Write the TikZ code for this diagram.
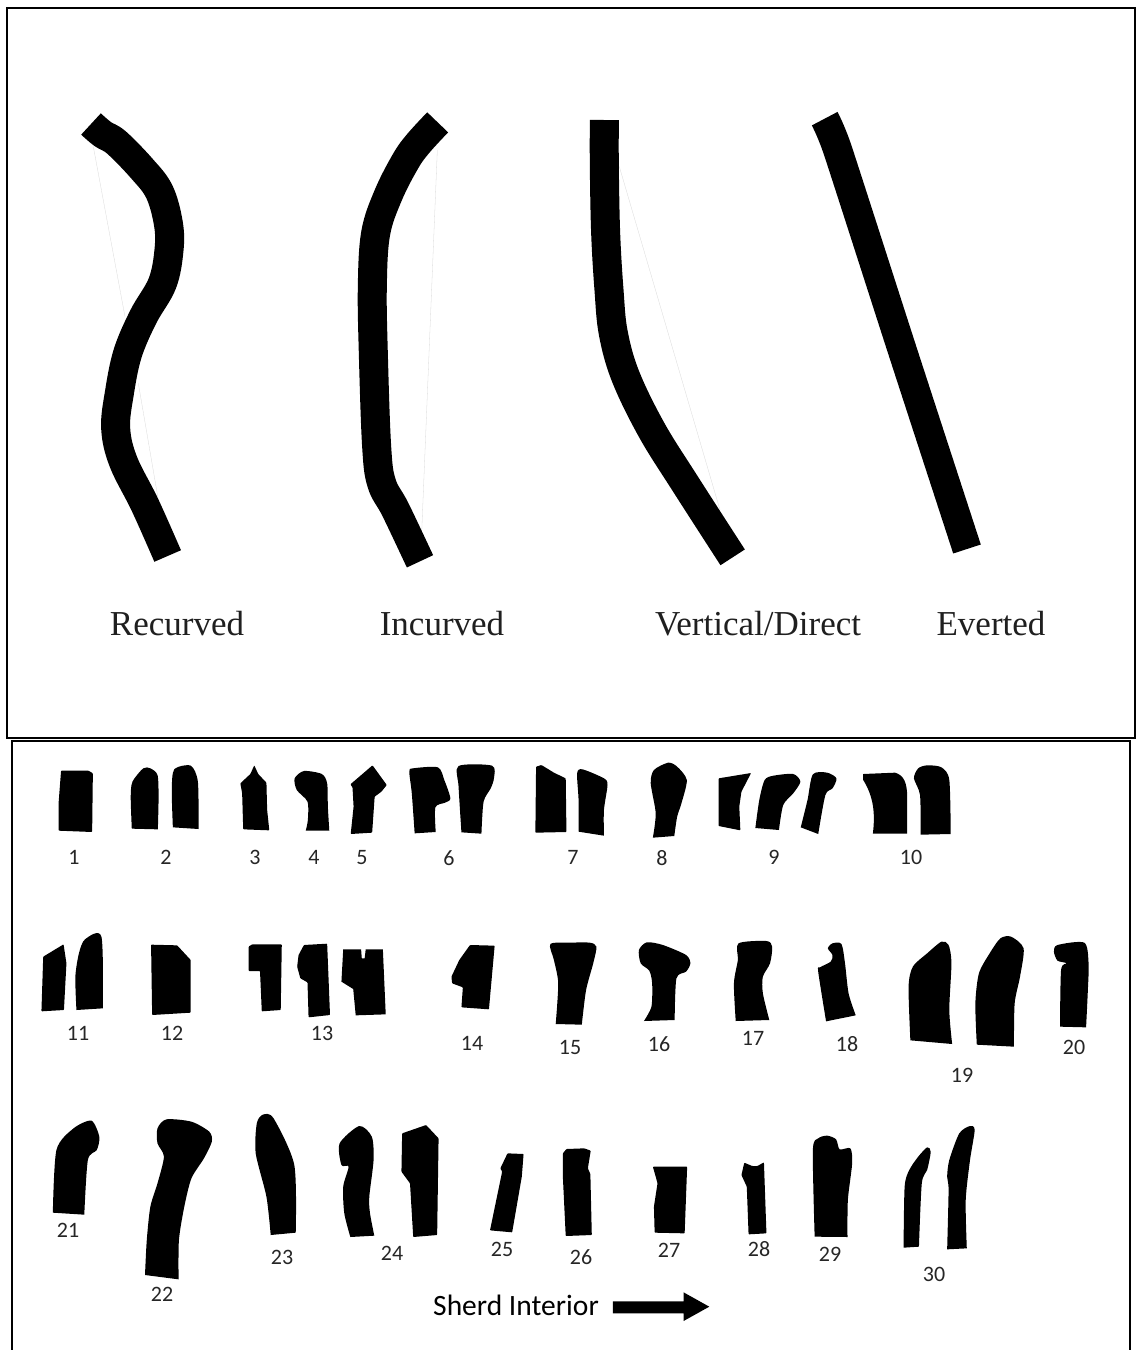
\documentclass[tikz,border=0pt]{standalone}
\usepackage{fontspec}
\setmainfont{Liberation Serif}
\newfontfamily\labelfont{Carlito}
\newcommand\curvesherd[1]{\fill[black] plot[smooth,tension=0.45] coordinates {#1} -- cycle;}
\tikzset{
  sherdfill/.style={fill=black,rounded corners=0.7pt},
  wall/.style={draw=black,line width=29pt,line cap=butt,line join=round},
  hair/.style={draw=gray!30,line width=0.3pt},
  framebox/.style={draw=black,line width=2.4pt},
  zoomA/.style={shift={(20,750)},x=0.357143pt,y=-0.333333pt},
  zoomB/.style={shift={(570,750)},x=0.357143pt,y=-0.333333pt},
  zoomC/.style={shift={(20,1100)},x=0.357143pt,y=-0.333333pt},
  zoomD/.style={shift={(570,1100)},x=0.357143pt,y=-0.333333pt},
  zoomE/.style={shift={(60,100)},x=0.333333pt,y=-0.333333pt},
  zoomF/.style={shift={(570,100)},x=0.333333pt,y=-0.333333pt},
  formname/.style={anchor=base,inner sep=0pt,text=black!88,font=\fontsize{35}{35}\selectfont},
  num/.style={anchor=center,inner sep=0pt,yshift=-0.7pt,text=black!85,font=\labelfont\fontsize{22}{22}\selectfont},
  caption/.style={anchor=base,inner sep=0pt,text=black,font=\labelfont\fontsize{29.5}{29.5}\selectfont},
}
\begin{document}
\begin{tikzpicture}[x=1pt,y=-1pt]
\useasboundingbox (0,0) rectangle (1136,1350);
\fill[white] (0,0) rectangle (1136,1350);
\draw[framebox] (7,8) rectangle (1135,738);
\draw[framebox] (12,1350) -- (12,741) -- (1130,741) -- (1130,1350);

% upper panel: profiles
\begin{scope}[zoomE]
\draw[hair] (100,140) -- (195,650);
\draw[hair] (235,850) -- (295,1200);
\draw[hair] (1132,150) -- (1085,1300);
\draw[wall] plot[smooth,tension=0.6] coordinates {(93,72) (128,102) (170,128) (245,205) (298,275) (325,370) (327,450) (307,550) (250,650) (203,760) (178,880) (167,985) (190,1085) (255,1215) (323,1368)};
\draw[wall] plot[smooth,tension=0.6] coordinates {(1133,67) (1075,130) (1037,183) (985,285) (947,400) (937,560) (940,760) (950,1040) (965,1150) (1007,1230) (1080,1384)};
\end{scope}
\begin{scope}[zoomF]
\draw[hair] (148,200) -- (450,1230);
\draw[wall] plot[smooth,tension=0.6] coordinates {(103,60) (103,200) (107,400) (117,570) (130,700) (167,830) (245,990) (345,1150) (488,1372)};
\draw[wall] plot[smooth,tension=0.3] coordinates {(764,56) (803,150) (995,745) (1191,1347)};
\end{scope}
\node[formname] (recurved) at (177,635) {Recurved};
\node[formname] (incurved) at (442,635) {Incurved};
\node[formname] (vertical) at (758,635) {Vertical/Direct};
\node[formname] (everted) at (991,635) {Everted};

% lower panel: sherds, row 1 and 2 (left)
\begin{scope}[zoomA]
\fill[sherdfill] (115,62) -- (192,62) -- (204,70) -- (202,246) -- (108,242) -- (108,160) -- cycle;
\curvesherd{(313,236) (310,140) (315,95) (345,55) (365,55) (385,75) (388,140) (386,238)}
\curvesherd{(428,232) (425,120) (432,58) (478,47) (498,95) (500,237)}
\fill[sherdfill] (625,238) -- (622,130) -- (617,100) -- (645,72) -- (656,46) -- (667,72) -- (690,98) -- (692,180) -- (698,241) -- cycle;
\curvesherd{(800,242) (806,210) (805,155) (775,120) (769,85) (795,63) (845,72) (860,100) (862,170) (866,242)}
\fill[sherdfill] (926,252) -- (934,170) -- (931,112) -- (925,103) -- (987,46) -- (1027,105) -- (1012,125) -- (993,140) -- (986,248) -- cycle;
\curvesherd{(1105,250) (1097,130) (1090,65) (1100,55) (1170,52) (1188,90) (1205,145) (1190,158) (1163,172) (1164,246)}
\curvesherd{(1236,247) (1228,110) (1228,48) (1322,47) (1327,85) (1318,115) (1298,155) (1292,251)}
\fill[sherdfill] (1443,248) -- (1445,50) -- (1460,45) -- (1495,68) -- (1528,85) -- (1530,246) -- cycle;
\fill[sherdfill] (60,784) -- (65,620) -- (122,583) -- (130,640) -- (123,780) -- cycle;
\curvesherd{(158,780) (155,680) (165,610) (182,568) (228,560) (232,775)}
\fill[sherdfill] (367,584) -- (440,586) -- (478,630) -- (478,788) -- (370,795) -- cycle;
\fill[sherdfill] (677,784) -- (672,663) -- (640,663) -- (640,590) -- (650,583) -- (733,583) -- (730,780) -- cycle;
\fill[sherdfill] (808,802) -- (805,697) -- (785,685) -- (776,650) -- (780,615) -- (795,585) -- (860,581) -- (868,795) -- cycle;
\fill[black] (905,598) -- (955,598) -- (957,625) -- (965,625) -- (968,598) -- (1016,598) -- (1024,793) -- (940,796) -- (933,717) -- (900,695) -- cycle;
\fill[sherdfill] (1260,585) -- (1329,587) -- (1313,778) -- (1236,772) -- (1240,712) -- (1210,700) -- (1208,680) -- (1230,630) -- cycle;
\curvesherd{(1500,822) (1507,700) (1495,630) (1485,582) (1540,578) (1595,578) (1614,590) (1605,640) (1585,720) (1573,824)}
\end{scope}

% lower panel: sherds, row 1 and 2 (right)
\begin{scope}[zoomB]
\curvesherd{(24,245) (24,150) (20,70) (35,58) (95,85) (105,105) (95,180) (95,257)}
\curvesherd{(232,263) (240,190) (226,100) (235,60) (275,38) (300,50) (327,90) (312,160) (300,200) (292,258)}
\fill[sherdfill] (416,85) -- (507,69) -- (480,125) -- (474,170) -- (477,241) -- (416,228) -- cycle;
\curvesherd{(519,234) (530,150) (545,90) (570,77) (625,72) (645,95) (625,130) (597,165) (585,240)}
\curvesherd{(646,232) (665,150) (680,73) (720,68) (746,85) (735,115) (715,135) (695,252)}
\fill[black] (848,251) .. controls (855,190) and (850,140) .. (821,90) -- (821,72) -- (910,68) .. controls (935,75) and (944,100) .. (944,140) -- (944,251) -- cycle;
\curvesherd{(982,254) (980,135) (963,85) (975,55) (1000,46) (1040,52) (1062,90) (1066,252)}
\curvesherd{(207,813) (228,770) (230,700) (222,662) (198,640) (193,600) (215,577) (260,585) (325,615) (337,640) (325,665) (298,685) (293,810)}
\curvesherd{(464,813) (459,700) (470,630) (472,580) (550,573) (566,590) (560,640) (540,680) (540,730) (558,810)}
\curvesherd{(717,814) (695,665) (700,652) (730,635) (735,615) (722,595) (735,580) (760,582) (770,640) (780,730) (800,796)}
\curvesherd{(953,871) (948,710) (960,650) (1000,610) (1040,575) (1060,585) (1068,640) (1062,780) (1070,882)}
\curvesherd{(1139,884) (1135,760) (1145,670) (1175,610) (1205,565) (1235,560) (1270,595) (1260,680) (1245,760) (1243,890)}
\curvesherd{(1372,830) (1375,660) (1390,640) (1365,632) (1355,605) (1365,585) (1440,578) (1452,640) (1450,720) (1445,832)}
\end{scope}

% lower panel: sherds, row 3 (left)
\begin{scope}[zoomC]
\curvesherd{(92,338) (102,150) (150,85) (200,62) (222,110) (215,150) (190,180) (180,344)}
\curvesherd{(350,525) (355,420) (365,320) (385,250) (403,170) (385,130) (385,85) (410,58) (480,65) (530,95) (537,125) (515,175) (480,235) (460,320) (445,420) (444,538)}
\curvesherd{(702,405) (690,290) (660,160) (663,70) (680,44) (710,55) (768,195) (772,398)}
\curvesherd{(925,411) (908,340) (905,260) (920,200) (900,195) (895,130) (950,78) (985,110) (990,180) (978,290) (980,340) (992,407)}
\fill[sherdfill] (1101,411) -- (1092,250) -- (1068,215) -- (1070,100) -- (1137,75) -- (1172,115) -- (1168,405) -- cycle;
\fill[sherdfill] (1316,391) -- (1350,215) -- (1345,205) -- (1365,160) -- (1410,162) -- (1405,230) -- (1378,397) -- cycle;
\fill[sherdfill] (1528,408) -- (1520,230) -- (1520,160) -- (1530,147) -- (1580,145) -- (1598,152) -- (1590,205) -- (1597,222) -- (1601,405) -- cycle;
\end{scope}

% lower panel: sherds, row 3 (right) and arrow
\begin{scope}[zoomD]
\fill[sherdfill] (232,200) -- (328,200) -- (321,400) -- (237,398) -- (235,320) -- (245,250) -- (240,230) -- cycle;
\fill[sherdfill] (488,188) -- (510,198) -- (525,198) -- (543,187) -- (550,400) -- (500,403) -- (495,260) -- (480,225) -- cycle;
\curvesherd{(685,410) (680,150) (695,115) (720,107) (745,118) (755,148) (785,145) (790,190) (778,300) (777,411)}
\curvesherd{(934,443) (937,260) (950,210) (975,170) (1000,142) (1010,155) (1000,210) (985,250) (977,440)}
\curvesherd{(1056,448) (1060,270) (1056,230) (1062,180) (1090,100) (1120,78) (1133,90) (1120,180) (1108,300) (1111,445)}
\fill[black] (120,604) -- (318,604) -- (318,577) -- (390,620) -- (318,663) -- (318,640) -- (120,640) -- cycle;
\end{scope}

% numbers
\node[num] (n1) at (74,857) {1};
\node[num] (n2) at (166,857) {2};
\node[num] (n3) at (255,857) {3};
\node[num] (n4) at (314,857) {4};
\node[num] (n5) at (362,857) {5};
\node[num] (n6) at (449,857) {6};
\node[num] (n7) at (573,857) {7};
\node[num] (n8) at (662,857) {8};
\node[num] (n9) at (774,857) {9};
\node[num] (n10) at (911,857) {10};
\node[num] (n11) at (78,1033) {11};
\node[num] (n12) at (172,1033) {12};
\node[num] (n13) at (322,1033) {13};
\node[num] (n14) at (472,1043) {14};
\node[num] (n15) at (570,1047) {15};
\node[num] (n16) at (659,1043) {16};
\node[num] (n17) at (753,1038) {17};
\node[num] (n18) at (847,1043) {18};
\node[num] (n19) at (962,1075) {19};
\node[num] (n20) at (1074,1047) {20};
\node[num] (n21) at (68,1230) {21};
\node[num] (n22) at (162,1294) {22};
\node[num] (n23) at (282,1257) {23};
\node[num] (n24) at (392,1253) {24};
\node[num] (n25) at (502,1249) {25};
\node[num] (n26) at (581,1256) {26};
\node[num] (n27) at (669,1250) {27};
\node[num] (n28) at (759,1248) {28};
\node[num] (n29) at (830,1254) {29};
\node[num] (n30) at (934,1274) {30};
\node[caption] (interior) at (516,1315) {Sherd Interior};
\end{tikzpicture}
\end{document}
